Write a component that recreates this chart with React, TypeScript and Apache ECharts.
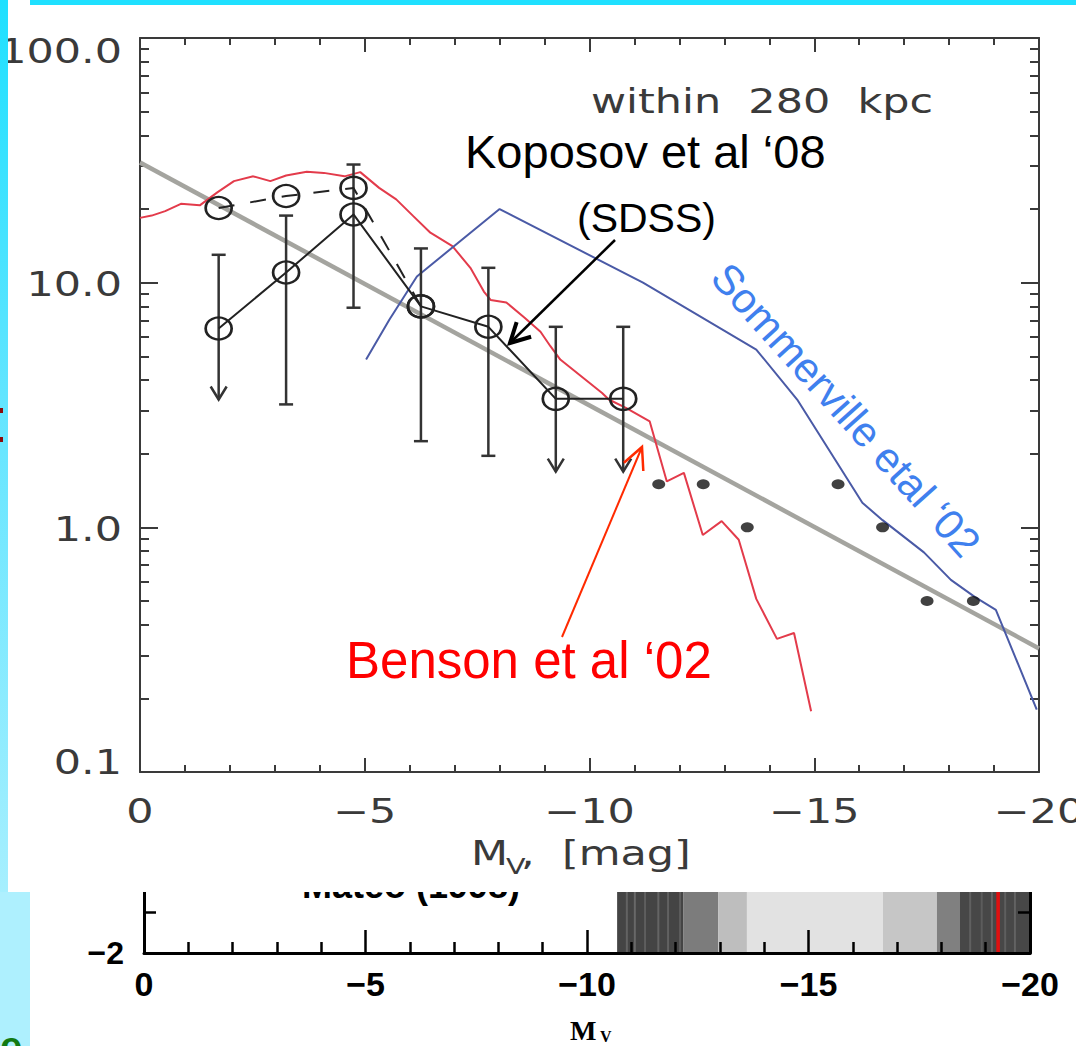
import React, { useEffect, useRef } from "react";
import * as echarts from "echarts";

// ---------------- tick values / labels ----------------
const xTickValues = [0, -5, -10, -15, -20];
const xTickLabels = ["0", "−5", "−10", "−15", "−20"];
const yTickValues = [100, 10, 1, 0.1];
const yTickLabels = ["100.0", "10.0", "1.0", "0.1"];
const yMajorValues = [0.1, 1, 10, 100];
const yMinorValues = [
  0.2, 0.3, 0.4, 0.5, 0.6, 0.7, 0.8, 0.9,
  2, 3, 4, 5, 6, 7, 8, 9,
  20, 30, 40, 50, 60, 70, 80, 90,
];

// ---------------- series data (M_V, N) ----------------
const powerLawM = [0, -20];
const powerLawN = [31, 0.32];

const bensonM = [
  0, -0.26, -0.56, -0.91, -1.33, -1.72, -2.09, -2.52, -2.9, -3.25, -3.71, -4.09,
  -4.55, -4.9, -5.32, -5.7, -6.08, -6.46, -6.95, -7.35, -7.65, -7.8, -8.15, -8.55,
  -8.91, -9.13, -9.35, -10.28, -10.43, -10.81, -11.34, -11.72, -12.1, -12.52,
  -12.94, -13.32, -13.71, -14.17, -14.55, -14.93,
];
const bensonN = [
  18.4, 18.8, 19.6, 21.0, 20.7, 23.4, 26.0, 27.2, 26.0, 27.4, 28.4, 28.1,
  27.2, 28.3, 24.4, 21.9, 18.7, 16.0, 14.1, 11.5, 9.2, 8.5, 8.3, 7.2,
  6.3, 5.5, 4.85, 3.54, 3.33, 3.08, 2.71, 1.54, 1.67, 0.93,
  1.06, 0.89, 0.51, 0.35, 0.37, 0.177,
];

const sommervilleM = [-5.03, -5.55, -6.16, -8.0, -11.19, -13.71, -14.62, -16.07, -16.52, -17.44, -18.04, -18.57, -19.04, -19.95];
const sommervilleN = [4.85, 7.07, 10.6, 20.0, 10.0, 5.33, 3.33, 1.26, 1.07, 0.79, 0.61, 0.52, 0.46, 0.18];

const mateoM = [-11.54, -12.53, -13.51, -15.53, -16.52, -17.51, -18.54];
const mateoN = [1.5, 1.5, 1.0, 1.5, 1.0, 0.5, 0.5];

const koposovM = [-1.75, -3.25, -4.75, -6.25, -7.75, -9.25, -10.75];
const koposovN = [6.5, 11.0, 19.0, 8.0, 6.6, 3.35, 3.35];
const koposovHigh = [13.0, 18.8, 30.4, 13.8, 11.5, 6.6, 6.6];
const koposovLow = [3.33, 3.18, 7.9, 2.25, 1.96, 1.69, 1.69];
const koposovUpperLimit = [1, 0, 0, 0, 0, 1, 1];

const koposovAltM = [-1.75, -3.25, -4.75, -6.25];
const koposovAltN = [20.2, 22.6, 24.4, 8.0];

// ---------------- lower panel (grey-scale strip) ----------------
const bandStart = [-10.68, -12.17, -12.96, -13.61, -16.68, -17.9, -18.42];
const bandEnd = [-12.17, -12.96, -13.61, -16.68, -17.9, -18.42, -20];
const bandGray = [68, 124, 190, 226, 198, 128, 71];
const stripeM = [-10.9, -11.08, -11.31, -11.61, -11.83, -12.1, -18.65, -18.91, -19.14, -19.44, -19.66];
const stripeGray = [98, 104, 94, 100, 97, 92, 96, 92, 100, 94, 98];
const markerM = [-19.28];
const bottomXLabels = ["0", "−5", "−10", "−15", "−20"];

const LINE = "#3a3a3a";
const IDL_FONT = '"DejaVu Sans", sans-serif';
const SANS = '"Liberation Sans", Arial, sans-serif';

const pair = (a: number[], b: number[]) => a.map((v, i) => [v, b[i]]);

function idlText(text: string, x: number, y: number, align: string, size = 33, z = 8) {
  return {
    type: "text",
    x,
    y,
    scaleX: 1.3,
    z,
    silent: true,
    style: {
      text,
      font: `${size}px ${IDL_FONT}`,
      fill: LINE,
      textAlign: align,
      textVerticalAlign: "middle",
    },
  };
}

function plainText(text: string, x: number, y: number, font: string, fill: string, align = "left", z = 8, rotation = 0) {
  return {
    type: "text",
    x,
    y,
    rotation,
    z,
    silent: true,
    style: { text, font, fill, textAlign: align, textVerticalAlign: "middle" },
  };
}

function arrow(x1: number, y1: number, x2: number, y2: number, color: string, width: number, headLen: number, headDeg: number, headWidth: number) {
  const ang = Math.atan2(y2 - y1, x2 - x1);
  const h = (headDeg * Math.PI) / 180;
  const a1 = ang + Math.PI - h;
  const a2 = ang + Math.PI + h;
  return [
    { type: "line", z: 8, silent: true, shape: { x1, y1, x2, y2 }, style: { stroke: color, lineWidth: width } },
    {
      type: "polyline",
      z: 8,
      silent: true,
      shape: {
        points: [
          [x2 + headLen * Math.cos(a1), y2 + headLen * Math.sin(a1)],
          [x2, y2],
          [x2 + headLen * Math.cos(a2), y2 + headLen * Math.sin(a2)],
        ],
      },
      style: { stroke: color, lineWidth: headWidth, fill: null, lineJoin: "miter" },
    },
  ];
}

export default function App() {
  const ref = useRef<HTMLDivElement>(null);

  useEffect(() => {
    const chart = echarts.init(ref.current as HTMLDivElement, null, { renderer: "svg" });

    const tickStyle = { color: LINE, width: 2 };
    const mainX = (position: string) => ({
      gridIndex: 0,
      type: "value",
      position,
      inverse: true,
      min: -20,
      max: 0,
      interval: 5,
      z: 3,
      axisLine: { show: true, onZero: false, lineStyle: tickStyle },
      axisTick: { show: true, inside: true, length: 14, lineStyle: tickStyle },
      minorTick: { show: true, splitNumber: 5, length: 7, lineStyle: tickStyle },
      axisLabel: { show: false },
      splitLine: { show: false },
      minorSplitLine: { show: false },
    });
    const mainY = (position: string, major: boolean) => ({
      gridIndex: 0,
      type: "log",
      logBase: 10,
      min: 0.1,
      max: 100,
      position,
      z: 3,
      axisLine: { show: major, onZero: false, lineStyle: tickStyle },
      axisTick: {
        show: true,
        inside: true,
        length: major ? 18 : 9,
        customValues: major ? yMajorValues : yMinorValues,
        lineStyle: tickStyle,
      },
      axisLabel: { show: false },
      splitLine: { show: false },
    });
    const bottomY = (position: string, labels: boolean) => ({
      gridIndex: 1,
      type: "value",
      min: -2,
      max: 0,
      interval: 1,
      position,
      z: 1,
      axisLine: { show: true, onZero: false, lineStyle: { color: "#000", width: 3 } },
      axisTick: { show: true, inside: true, length: 12, lineStyle: { color: "#000", width: 2.5 } },
      axisLabel: {
        show: labels,
        margin: 20,
        formatter: (v: number) => (v === -2 ? "−2" : ""),
        fontFamily: SANS,
        fontWeight: "bold",
        fontSize: 32,
        color: "#000",
      },
      splitLine: { show: false },
    });

    const option = {
      animation: false,
      backgroundColor: "#ffffff",
      grid: [
        { left: 140, top: 38, width: 899, height: 734 },
        { left: 144, top: 871, width: 886, height: 82 },
      ],
      xAxis: [
        mainX("bottom"),
        mainX("top"),
        {
          gridIndex: 1,
          type: "value",
          inverse: true,
          min: -20,
          max: 0,
          interval: 5,
          z: 1,
          axisLine: { show: true, onZero: false, lineStyle: { color: "#000", width: 3 } },
          axisTick: { show: true, inside: true, length: 23, lineStyle: { color: "#000", width: 2.5 } },
          minorTick: { show: true, splitNumber: 5, length: 11, lineStyle: { color: "#000", width: 2.5 } },
          axisLabel: {
            show: true,
            margin: 14,
            lineHeight: 34,
            formatter: (v: number) => bottomXLabels[xTickValues.indexOf(v)] ?? "",
            fontFamily: SANS,
            fontWeight: "bold",
            fontSize: 34,
            color: "#000",
          },
          splitLine: { show: false },
          minorSplitLine: { show: false },
        },
      ],
      yAxis: [
        mainY("left", true),
        mainY("left", false),
        mainY("right", true),
        mainY("right", false),
        bottomY("left", true),
        bottomY("right", false),
      ],
      series: [
        {
          type: "line",
          name: "Power law",
          xAxisIndex: 0,
          yAxisIndex: 0,
          data: pair(powerLawM, powerLawN),
          symbol: "none",
          lineStyle: { color: "#a4a49f", width: 4.5 },
          z: 3,
          silent: true,
        },
        {
          type: "line",
          name: "Benson et al '02",
          xAxisIndex: 0,
          yAxisIndex: 0,
          data: pair(bensonM, bensonN),
          symbol: "none",
          lineStyle: { color: "#e33b4b", width: 2 },
          z: 4,
          silent: true,
        },
        {
          type: "line",
          name: "Sommerville etal '02",
          xAxisIndex: 0,
          yAxisIndex: 0,
          data: pair(sommervilleM, sommervilleN),
          symbol: "none",
          lineStyle: { color: "#4a5aa6", width: 2 },
          z: 4,
          silent: true,
        },
        {
          type: "scatter",
          name: "Mateo",
          xAxisIndex: 0,
          yAxisIndex: 0,
          data: pair(mateoM, mateoN),
          symbol: "circle",
          symbolSize: [13, 10],
          itemStyle: { color: "#111" },
          z: 5,
          silent: true,
        },
        {
          type: "custom",
          name: "Koposov errors",
          xAxisIndex: 0,
          yAxisIndex: 0,
          z: 5,
          silent: true,
          encode: { x: 0, y: [1, 2] },
          data: koposovM.map((m, i) => [m, koposovLow[i], koposovHigh[i], koposovUpperLimit[i]]),
          renderItem: (_p: any, api: any) => {
            const m = api.value(0);
            const t = api.coord([m, api.value(2)]);
            const b = api.coord([m, api.value(1)]);
            const st = { stroke: "#333", lineWidth: 2.5, fill: null };
            const ch: any[] = [
              { type: "line", shape: { x1: t[0], y1: t[1], x2: b[0], y2: b[1] }, style: st },
              { type: "line", shape: { x1: t[0] - 7, y1: t[1], x2: t[0] + 7, y2: t[1] }, style: st },
            ];
            if (api.value(3)) {
              ch.push({
                type: "polyline",
                shape: { points: [[b[0] - 8, b[1] - 13], [b[0], b[1]], [b[0] + 8, b[1] - 13]] },
                style: st,
              });
            } else {
              ch.push({ type: "line", shape: { x1: b[0] - 7, y1: b[1], x2: b[0] + 7, y2: b[1] }, style: st });
            }
            return { type: "group", children: ch };
          },
        },
        {
          type: "line",
          name: "Koposov (alt)",
          xAxisIndex: 0,
          yAxisIndex: 0,
          data: pair(koposovAltM, koposovAltN),
          symbol: "circle",
          symbolSize: [26, 22],
          itemStyle: { color: "rgba(0,0,0,0)", borderColor: "#222", borderWidth: 2.5 },
          lineStyle: { color: "#222", width: 2, type: [16, 16] },
          z: 6,
          silent: true,
        },
        {
          type: "line",
          name: "Koposov et al '08",
          xAxisIndex: 0,
          yAxisIndex: 0,
          data: pair(koposovM, koposovN),
          symbol: "circle",
          symbolSize: [26, 22],
          itemStyle: { color: "rgba(0,0,0,0)", borderColor: "#222", borderWidth: 2.5 },
          lineStyle: { color: "#222", width: 2 },
          z: 6,
          silent: true,
        },
        {
          type: "custom",
          name: "strip",
          xAxisIndex: 2,
          yAxisIndex: 4,
          z: 0,
          silent: true,
          data: bandStart.map((s, i) => [s, bandEnd[i], bandGray[i]]),
          renderItem: (_p: any, api: any) => {
            const a = api.coord([api.value(0), 0]);
            const b = api.coord([api.value(1), -2]);
            const g = api.value(2);
            return {
              type: "rect",
              shape: { x: Math.min(a[0], b[0]), y: a[1], width: Math.abs(b[0] - a[0]), height: b[1] - a[1] },
              style: { fill: `rgb(${g},${g},${g})` },
            };
          },
        },
        {
          type: "custom",
          name: "strip lines",
          xAxisIndex: 2,
          yAxisIndex: 4,
          z: 0,
          silent: true,
          data: stripeM.map((m, i) => [m, stripeGray[i]]),
          renderItem: (_p: any, api: any) => {
            const a = api.coord([api.value(0), 0]);
            const b = api.coord([api.value(0), -2]);
            const g = api.value(1);
            return {
              type: "rect",
              shape: { x: a[0] - 1, y: a[1], width: 2, height: b[1] - a[1] },
              style: { fill: `rgb(${g},${g},${g})` },
            };
          },
        },
        {
          type: "custom",
          name: "strip marker",
          xAxisIndex: 2,
          yAxisIndex: 4,
          z: 0,
          silent: true,
          data: markerM.map((m) => [m, -1]),
          renderItem: (_p: any, api: any) => {
            const a = api.coord([api.value(0), 0]);
            const b = api.coord([api.value(0), -2]);
            return {
              type: "rect",
              shape: { x: a[0] - 1.8, y: a[1], width: 3.6, height: b[1] - a[1] },
              style: { fill: "#e01010" },
            };
          },
        },
      ],
    };

    chart.setOption(option as any);

    const px = (v: number) => chart.convertToPixel({ xAxisIndex: 0 } as any, v) as unknown as number;
    const py = (v: number) => chart.convertToPixel({ yAxisIndex: 0 } as any, v) as unknown as number;
    const axisY = py(0.1);
    const axisX = px(0);
    const yNudge = [13, 2, 2, -10];

    const elements: any[] = [
      // slide background pieces
      { type: "rect", z: 2, silent: true, shape: { x: 8, y: 0, width: 1068, height: 892 }, style: { fill: "#ffffff" } },
      { type: "rect", z: 10, silent: true, shape: { x: 30, y: 0, width: 1046, height: 5 }, style: { fill: "#1fe0ff" } },
      {
        type: "rect",
        z: 10,
        silent: true,
        shape: { x: 0, y: 0, width: 8, height: 892 },
        style: {
          fill: {
            type: "linear",
            x: 0,
            y: 0,
            x2: 0,
            y2: 1,
            colorStops: [
              { offset: 0, color: "#1ee0ff" },
              { offset: 0.45, color: "#62e5ff" },
              { offset: 1, color: "#a6effe" },
            ],
          },
        },
      },
      { type: "rect", z: 10, silent: true, shape: { x: 0, y: 892, width: 30, height: 154 }, style: { fill: "#aef0fe" } },
      { type: "rect", z: 11, silent: true, shape: { x: 0, y: 408, width: 3, height: 5 }, style: { fill: "#8b0a0a" } },
      { type: "rect", z: 11, silent: true, shape: { x: 0, y: 437, width: 3, height: 5 }, style: { fill: "#8b0a0a" } },
      plainText("e", 0, 1046, `bold 40px ${SANS}`, "#127a12", "left", 11),

      // lower panel texts
      plainText("Mateo (1998)", 302, 885, `bold 36px ${SANS}`, "#000", "left", 1),
      plainText("M", 570, 1030, 'bold 28px "Liberation Serif", serif', "#000", "left", 8),
      plainText("V", 600, 1036, 'bold 16px "Liberation Serif", serif', "#000", "left", 8),

      // main panel axis labels (IDL style, stretched)
      ...xTickValues.map((v, i) => idlText(xTickLabels[i], px(v), axisY + 39, "center")),
      ...yTickValues.map((v, i) => idlText(yTickLabels[i], axisX - 18, py(v) + yNudge[i], "right")),
      idlText("M", 471, 853, "left"),
      idlText("V", 506, 866, "left", 22),
      idlText(",  [mag]", 521, 853, "left"),
      idlText("within  280  kpc", 591, 101, "left"),

      // annotations
      plainText("Koposov et al ‘08", 465, 151, `47px ${SANS}`, "#000"),
      plainText("(SDSS)", 577, 218, `41px ${SANS}`, "#000"),
      plainText("Benson et al ‘02", 346, 660, `51px ${SANS}`, "#ff0000"),
      plainText("Sommerville etal ‘02", 846, 410, `42px ${SANS}`, "#3f80ee", "center", 8, (-48 * Math.PI) / 180),
      ...arrow(615, 240, 510, 343, "#000", 2.5, 22, 28, 4),
      ...arrow(562, 637, 642, 447, "#ff2a00", 2, 24, 26, 2.5),
    ];

    chart.setOption({ graphic: elements } as any);

    return () => {
      chart.dispose();
    };
  }, []);

  return (
    <div
      ref={ref}
      style={{ position: "fixed", left: 0, top: 0, width: 1076, height: 1046, background: "#fff" }}
    />
  );
}
